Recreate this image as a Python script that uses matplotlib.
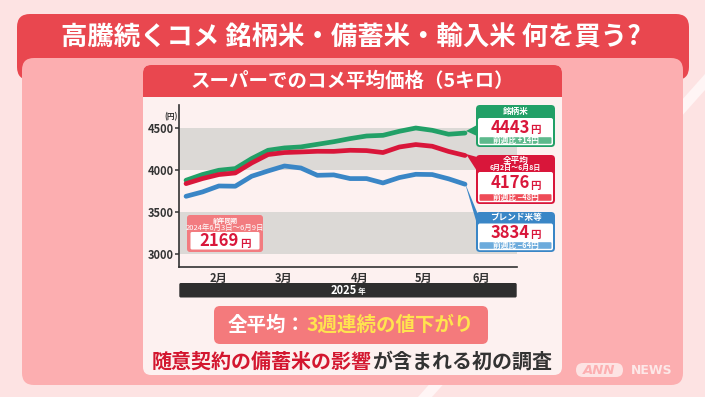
import numpy as np
import matplotlib
matplotlib.use('Agg')
import matplotlib.pyplot as plt
from matplotlib.patches import FancyBboxPatch, Rectangle, Polygon
from matplotlib.offsetbox import TextArea, HPacker, AnnotationBbox

plt.rcParams['font.family'] = ['Noto Sans CJK JP', 'DejaVu Sans']

# weekly supermarket average price of rice, 5kg (yen)
weeks = np.arange(18)
brand = [3881, 3949, 4000, 4020, 4139, 4238, 4266, 4278, 4309, 4340,
         4377, 4408, 4416, 4464, 4503, 4476, 4429, 4443]
average = [3841, 3901, 3949, 3968, 4087, 4187, 4211, 4218, 4226, 4225,
           4238, 4234, 4211, 4277, 4306, 4286, 4224, 4176]
blend = [3690, 3742, 3813, 3810, 3929, 3992, 4051, 4027, 3940, 3945,
         3901, 3901, 3849, 3913, 3952, 3949, 3898, 3834]
month_pos = [1.95, 5.97, 10.6, 14.46, 18.02]
month_labels = ['2月', '3月', '4月', '5月', '6月']
yticks = [3000, 3500, 4000, 4500]
last_year = 2169

GREEN, RED, BLUE = '#22a067', '#d9163a', '#3a86c6'
W, H = 705, 397

fig = plt.figure(figsize=(W / 100, H / 100), dpi=100)
fig.patch.set_facecolor('#fde3e3')


def pix_axes(zorder):
    a = fig.add_axes([0, 0, 1, 1], zorder=zorder)
    a.set_xlim(0, W)
    a.set_ylim(H, 0)
    a.axis('off')
    a.patch.set_alpha(0)
    return a


def rbox(a, x0, y0, x1, y1, color, r=6, z=1):
    a.add_patch(FancyBboxPatch((x0, y0), x1 - x0, y1 - y0,
                               boxstyle='round,pad=0,rounding_size=%g' % r,
                               fc=color, ec='none', zorder=z))


def multi(a, x, y, parts, z=5):
    # parts: (text, color, size)
    kids = [TextArea(t, textprops=dict(color=c, fontsize=s, weight='bold')) for t, c, s in parts]
    box = HPacker(children=kids, align='baseline', pad=0, sep=0.5)
    a.add_artist(AnnotationBbox(box, (x, y), xycoords='data', frameon=False,
                                box_alignment=(0.5, 0.5), pad=0, zorder=z))


bg = pix_axes(0)

# background decoration
bg.add_patch(Polygon([(418, 397), (432, 397), (705, 90), (705, 74)], fc='#fff5f5', ec='none'))
rbox(bg, 17, 14, 689, 80, '#e9474f', r=13)
rbox(bg, 22, 58, 683, 385, '#fcaeb0', r=12)
rbox(bg, 143, 65, 562, 375, '#fdf1f0', r=8)
rbox(bg, 143, 65, 562, 97, '#e9474f', r=8)
bg.add_patch(Rectangle((143, 85), 419, 12, fc='#e9474f', ec='none'))

bg.text(351, 37.5, '高騰続くコメ 銘柄米・備蓄米・輸入米 何を買う?', color='white',
        fontsize=19, weight='bold', ha='center', va='center')
bg.text(352, 81, 'スーパーでのコメ平均価格（5キロ）', color='white',
        fontsize=14, weight='bold', ha='center', va='center')

# ANN NEWS logo
rbox(bg, 576, 363, 623, 377, '#fde3e3', r=7)
bg.text(599.5, 370, 'ANN', color='#fcaeb0', fontsize=9.5, weight='bold',
        style='italic', ha='center', va='center', family='DejaVu Sans')
bg.text(652, 370.5, 'NEWS', color='#fde8e8', fontsize=9, weight='bold',
        ha='center', va='center', family='DejaVu Sans')

# chart
ax = fig.add_axes([179.3 / W, 1 - 266.7 / H, (516.7 - 179.3) / W, (266.7 - 105) / H], zorder=1)
ax.patch.set_alpha(0)
ax.set_xlim(-0.41, 20.15)
ax.set_ylim(2852, 4777)
ax.axhspan(4000, 4500, color='#dcd9d6', lw=0, zorder=0)
ax.axhspan(3000, 3500, color='#dcd9d6', lw=0, zorder=0)
for vals, col in [(brand, GREEN), (average, RED), (blend, BLUE)]:
    ax.plot(weeks, vals, color=col, lw=3.4, solid_joinstyle='round', solid_capstyle='round')

for s in ['top', 'right']:
    ax.spines[s].set_visible(False)
for s in ['left', 'bottom']:
    ax.spines[s].set_color('#333333')
    ax.spines[s].set_linewidth(1.2)
ax.set_yticks(yticks)
ax.set_yticklabels([str(v) for v in yticks], fontsize=8, weight='bold', color='#333333')
ax.tick_params(axis='y', length=3, width=1.1, color='#333333', pad=1)
ax.set_xticks(month_pos)
ax.set_xticklabels(month_labels, fontsize=8, weight='bold', color='#333333')
ax.tick_params(axis='x', length=0, pad=3.5)

top = pix_axes(2)
top.text(171, 117, '(円)', fontsize=5.5, weight='bold', color='#333333', ha='center', va='center')

# year bar
rbox(top, 179.3, 283, 516.7, 297.5, '#2e2e2e', r=1.5)
multi(top, 348, 290.5, [('2025', 'white', 8), ('年', 'white', 5.5)])

# last-year box
rbox(top, 187, 215, 263, 252, '#f27c80', r=3)
rbox(top, 190.5, 232, 259.5, 249.5, 'white', r=1.5)
top.text(225, 221, '前年同期', color='white', fontsize=4.5, weight='bold', ha='center', va='center')
top.text(225, 227.5, '2024年6月3日～6月9日', color='white', fontsize=5.4, ha='center', va='center')
multi(top, 225, 241.5, [(str(last_year), RED, 12), ('円', RED, 7.5)])

# callouts at the right end of the lines
top.add_patch(Polygon([(466, 131), (477, 125), (477, 136)], fc=GREEN, ec='none'))
top.add_patch(Polygon([(466, 154), (477, 157), (477, 171)], fc=RED, ec='none'))
top.add_patch(Polygon([(465, 183), (477, 212), (477, 224)], fc=BLUE, ec='none'))

callouts = [
    (105, 147, 118, GREEN, '#5db98c', [('銘柄米', 111.5, 6.2)], brand, '+'),
    (155, 204, 172, RED, '#ef4b57', [('全平均', 160, 6.2), ('6月2日～6月8日', 167, 5)], average, '−'),
    (212, 252, 223.5, BLUE, '#6cabdc', [('ブレンド米等', 217.7, 6.2)], blend, '−'),
]
for y0, y1, yh, col, sub, heads, vals, sign in callouts:
    rbox(top, 476, y0, 555, y1, col, r=4)
    rbox(top, 478, yh, 553, y1 - 1.8, 'white', r=2)
    rbox(top, 479.5, y1 - 9.8, 551.5, y1 - 3.2, sub, r=1)
    for t, yy, fs in heads:
        top.text(515.5, yy, t, color='white', fontsize=fs, weight='bold', ha='center', va='center')
    diff = vals[-1] - vals[-2]
    multi(top, 515.5, (yh + y1 - 10) / 2 + 0.5, [(str(vals[-1]), RED, 12), ('円', RED, 7.5)])
    top.text(515.5, y1 - 6.5, '前週比 %s%d円' % (sign, abs(diff)), color='white',
             fontsize=5.5, weight='bold', ha='center', va='center')

# bottom messages
rbox(top, 214, 306, 488, 344, '#f47a7c', r=6)
multi(top, 351, 325, [('全平均：', 'white', 14), ('3週連続の値下がり', '#ffe34f', 14)])
multi(top, 352, 361, [('随意契約の備蓄米の影響', '#d3172f', 14.4), ('が含まれる初の調査', '#333333', 14.4)])

plt.savefig('out.png', dpi=100, facecolor=fig.get_facecolor())
